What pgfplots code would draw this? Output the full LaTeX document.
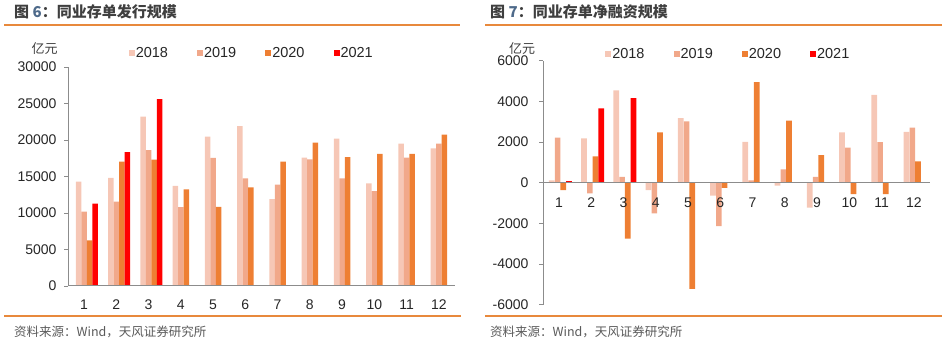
\documentclass[border=0pt]{standalone}
\usepackage{fontspec}
\setmainfont{Liberation Sans}
\newfontfamily\cjk{Noto Sans CJK SC}
\usepackage{pgfplots}
\pgfplotsset{compat=1.18}
\definecolor{c18}{HTML}{F6C7B6}
\definecolor{c19}{HTML}{F1A88A}
\definecolor{c20}{HTML}{EE7F33}
\definecolor{c21}{HTML}{FF0000}
\definecolor{orangeline}{HTML}{E8893C}
\definecolor{titlegray}{HTML}{3F3F3F}
\definecolor{axgray}{HTML}{8C8C8C}
\definecolor{srcgray}{HTML}{5A5A5A}
\definecolor{numblue}{HTML}{4E6A8A}

\pgfplotsset{
  mybars/.style={
    scale only axis,
    width=387pt,
    ybar,
    axis on top,
    xmin=0.5, xmax=12.5,
    xtick={1,...,12},
    xtick style={draw=none},
    ytick style={draw=axgray, line width=0.8pt},
    tick align=outside,
    major tick length=4pt,
    axis line style={draw=axgray, line width=1pt},
    tick label style={font=\fontsize{14}{16}\selectfont, text=black!85},
    scaled y ticks=false,
    /pgf/number format/assume math mode=true,
    /pgf/number format/1000 sep={},
    legend columns=4,
    legend image code/.code={\fill[#1] (0pt,-3pt) rectangle (6pt,3pt);},
    legend style={draw=none, fill=none, inner sep=0pt, outer sep=0pt,
      font=\fontsize{14.5}{16}\selectfont, text=black!85,
      nodes={inner sep=1pt},
      /tikz/every even column/.append style={column sep=28pt}},
  },
  s18/.style={fill=c18, draw=none},
  s19/.style={fill=c19, draw=none},
  s20/.style={fill=c20, draw=none},
  s21/.style={fill=c21, draw=none},
}

\begin{document}
\begin{tikzpicture}
\useasboundingbox (0pt,0pt) rectangle (948pt,347pt);

% ---- titles and rules ----
\node[anchor=west, inner sep=0pt, font=\cjk\bfseries\fontsize{15}{15}\selectfont, text=titlegray] at (14pt,335pt) {图 {\color{numblue}6}：同业存单发行规模};
\node[anchor=west, inner sep=0pt, font=\cjk\bfseries\fontsize{15}{15}\selectfont, text=titlegray] at (490pt,335pt) {图 {\color{numblue}7}：同业存单净融资规模};
\draw[orangeline, line width=1.5pt] (4pt,322pt) -- (460pt,322pt);
\draw[orangeline, line width=1.5pt] (485pt,322pt) -- (942pt,322pt);
\draw[orangeline, line width=1.5pt] (4pt,31pt) -- (461pt,31pt);
\draw[orangeline, line width=1.5pt] (485pt,31pt) -- (942pt,31pt);
\node[anchor=west, inner sep=0pt, font=\cjk\fontsize{12.5}{13}\selectfont, text=srcgray] at (14pt,15pt) {资料来源：Wind，天风证券研究所};
\node[anchor=west, inner sep=0pt, font=\cjk\fontsize{12.5}{13}\selectfont, text=srcgray] at (490pt,15pt) {资料来源：Wind，天风证券研究所};
\node[inner sep=0pt, font=\cjk\fontsize{13}{13}\selectfont, text=titlegray] at (44.5pt,298pt) {亿元};
\node[inner sep=0pt, font=\cjk\fontsize{13}{13}\selectfont, text=titlegray] at (522pt,298pt) {亿元};

% ---- left chart ----
\begin{axis}[mybars,
  at={(68pt,61pt)}, anchor=south west,
  height=219pt,
  bar width=5.5pt,
  ymin=0, ymax=30000,
  ytick={0,5000,10000,15000,20000,25000,30000},
  axis x line*=bottom, axis y line*=left,
  xticklabel style={yshift=-6pt},
  yticklabel style={xshift=-4pt},
  legend style={at={(0.157,1.064)}, anchor=west},
]
\addplot[s18, bar shift=-5.6pt] coordinates {(1,14300)(2,14800)(3,23200)(4,13700)(5,20450)(6,21900)(7,11900)(8,17600)(9,20200)(10,14050)(11,19500)(12,18850)};
\addplot[s19, bar shift=-0.1pt] coordinates {(1,10200)(2,11550)(3,18600)(4,10800)(5,17550)(6,14750)(7,13900)(8,17350)(9,14750)(10,13000)(11,17600)(12,19500)};
\addplot[s20, bar shift=5.4pt] coordinates {(1,6250)(2,17050)(3,17300)(4,13250)(5,10850)(6,13500)(7,17050)(8,19650)(9,17650)(10,18100)(11,18100)(12,20750)};
\addplot[s21, bar shift=10.9pt] coordinates {(1,11300)(2,18350)(3,25600)};
\legend{2018,2019,2020,2021}
\end{axis}

% ---- right chart ----
\begin{axis}[mybars,
  at={(543pt,42.3pt)}, anchor=south west,
  height=244pt,
  bar width=5.7pt,
  ymin=-6000, ymax=6000,
  ytick={-6000,-4000,-2000,0,2000,4000,6000},
  axis x line*=middle, axis y line*=left,
  xticklabel style={yshift=-7.5pt},
  yticklabel style={xshift=-7pt},
  legend style={at={(0.161,1.027)}, anchor=west},
]
\addplot[s18, bar shift=-7.3pt] coordinates {(1,110)(2,2180)(3,4540)(4,-360)(5,3170)(6,-640)(7,2010)(8,-150)(9,-1230)(10,2470)(11,4320)(12,2500)};
\addplot[s19, bar shift=-1.5pt] coordinates {(1,2220)(2,-530)(3,280)(4,-1510)(5,3020)(6,-2140)(7,110)(8,650)(9,280)(10,1730)(11,2000)(12,2710)};
\addplot[s20, bar shift=4.2pt] coordinates {(1,-370)(2,1300)(3,-2750)(4,2470)(5,-5220)(6,-250)(7,4950)(8,3050)(9,1350)(10,-560)(11,-560)(12,1050)};
\addplot[s21, bar shift=9.9pt] coordinates {(1,80)(2,3660)(3,4160)};
\legend{2018,2019,2020,2021}
\end{axis}
\end{tikzpicture}
\end{document}
